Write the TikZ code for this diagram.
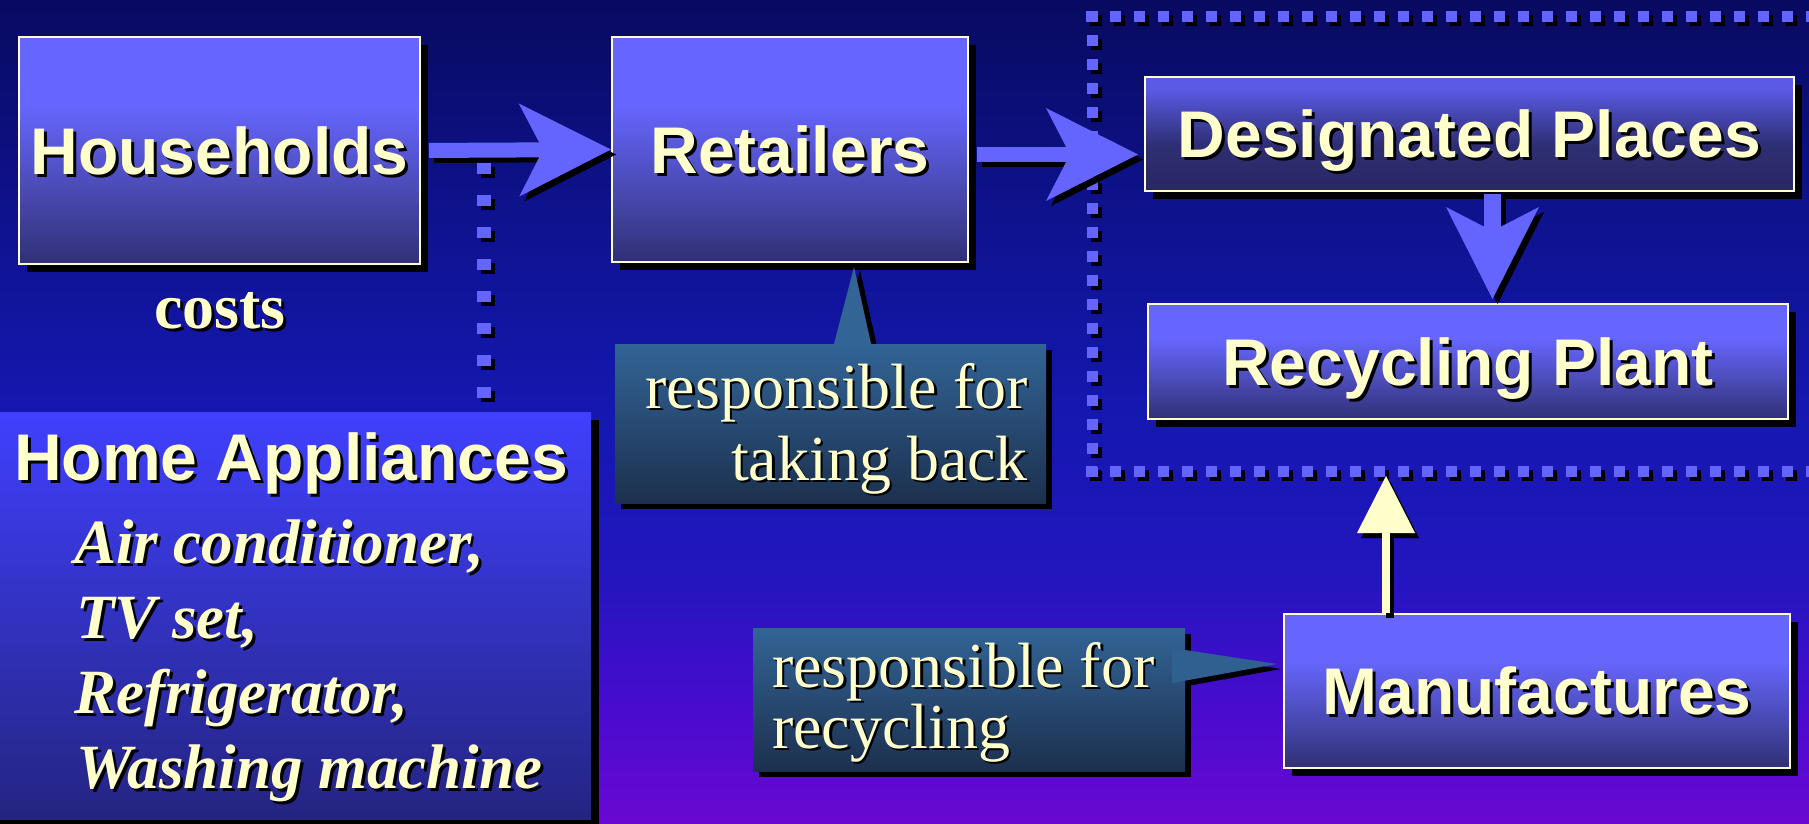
\documentclass[tikz,border=0pt]{standalone}
\usepackage{fontspec}
\setmainfont{Liberation Serif}
\newfontfamily\lsans{Liberation Sans}
\usetikzlibrary{arrows.meta,shadows,calc}
\definecolor{cream}{RGB}{255,255,204}
\definecolor{arrowblue}{RGB}{100,100,255}
\definecolor{bgbot}{RGB}{106,8,210}
\definecolor{bgA}{RGB}{70,12,205}
\definecolor{bgB}{RGB}{35,22,190}
\definecolor{bgmid}{RGB}{20,24,176}
\definecolor{bgC}{RGB}{14,18,140}
\definecolor{bgtop}{RGB}{8,10,96}
\definecolor{bxbot}{RGB}{48,48,118}
\definecolor{bxlow}{RGB}{72,72,175}
\definecolor{bxtop}{RGB}{102,102,255}
\definecolor{dpbot}{RGB}{40,40,100}
\definecolor{dpmid}{RGB}{46,46,115}
\definecolor{dptop}{RGB}{90,90,230}
\definecolor{cotop}{RGB}{50,100,150}
\definecolor{cobot}{RGB}{28,48,78}
\definecolor{hatop}{RGB}{64,64,255}
\definecolor{habot}{RGB}{36,36,130}
\pgfdeclareverticalshading{bgshade}{100bp}{color(0bp)=(bgbot); color(25bp)=(bgbot); color(32.5bp)=(bgA); color(40bp)=(bgB); color(50bp)=(bgmid); color(62.5bp)=(bgC); color(75bp)=(bgtop); color(100bp)=(bgtop)}
\pgfdeclareverticalshading{boxshade}{100bp}{color(0bp)=(bxbot); color(25bp)=(bxbot); color(40bp)=(bxlow); color(60bp)=(bxtop); color(100bp)=(bxtop)}
\pgfdeclareverticalshading{dpshade}{100bp}{color(0bp)=(dpbot); color(25bp)=(dpbot); color(45bp)=(dpmid); color(70bp)=(dptop); color(100bp)=(dptop)}
\pgfdeclarelayer{bglayer}
\pgfdeclarelayer{shlayer}
\pgfsetlayers{bglayer,shlayer,main}
\newcommand\shd[2][3pt]{\leavevmode\rlap{\kern#1\lower#1\hbox{\color{black}#2}}#2}
\newcommand\fbig{\lsans\bfseries\fontsize{66}{72}\selectfont}
\newcommand\fcosts{\bfseries\fontsize{64}{70}\selectfont}
\newcommand\fitem{\bfseries\itshape\fontsize{63}{75}\selectfont}
\newcommand\fcall{\fontsize{64}{72}\selectfont}
\tikzset{
  lbox/.style={draw=cream, line width=2pt, shade, shading=boxshade, inner sep=0pt,
    text=cream, font=\fbig, text height=47pt, text depth=0pt,
    drop shadow={shadow xshift=8pt, shadow yshift=-8pt, opacity=1, fill=black}},
  cbox/.style={shade, top color=cotop, bottom color=cobot, draw=none, inner sep=0pt,
    drop shadow={shadow xshift=6pt, shadow yshift=-6pt, opacity=1, fill=black}},
  habox/.style={shade, top color=hatop, bottom color=habot, draw=none, inner sep=0pt,
    drop shadow={shadow xshift=8pt, shadow yshift=-8pt, opacity=1, fill=black}},
  txt/.style={inner sep=0pt, text=cream},
  fatarrow/.style={draw=arrowblue, line width=15pt,
    -{Stealth[length=92pt,width=93pt,inset=24pt,line width=0pt]}},
  fatshadow/.style={fatarrow, draw=black, transform canvas={shift={(5pt,-5pt)}}},
  creamarrow/.style={draw=cream, line width=8pt,
    -{Triangle[length=57pt,width=58pt,line width=0pt]}},
  creamshadow/.style={creamarrow, draw=black, transform canvas={shift={(4pt,-5pt)}}},
  dotline/.style={draw=arrowblue, line width=11pt, dash pattern=on 11pt off 13pt},
  dotshadow/.style={dotline, draw=black, transform canvas={shift={(4pt,-4pt)}}},
  vdotline/.style={draw=arrowblue, line width=14pt, dash pattern=on 11pt off 21pt},
  vdotshadow/.style={vdotline, draw=black, transform canvas={shift={(4pt,-4pt)}}},
}
\begin{document}
\begin{tikzpicture}[x=1pt,y=-1pt]
\useasboundingbox (0,0) rectangle (1809,824);
\begin{pgfonlayer}{bglayer}
  \path[shade, shading=bgshade] (0,0) rectangle (1809,824);
\end{pgfonlayer}

% dotted zone
\coordinate (zTR) at (1830,17);
\coordinate (zTL) at (1086,17);
\coordinate (zLT) at (1092,11);
\coordinate (zLB) at (1092,477);
\coordinate (zBL) at (1086,471);
\coordinate (zBR) at (1830,471);
\draw[dotshadow] (zTL) -- (zTR);
\draw[dotshadow] (zLT) -- (zLB);
\draw[dotshadow] (zBL) -- (zBR);
\draw[dotline] (zTL) -- (zTR);
\draw[dotline] (zLT) -- (zLB);
\draw[dotline] (zBL) -- (zBR);

% boxes
\node[lbox, minimum width=401pt, minimum height=227pt] (hh) at (219.5,150.5) {\shd{Households}};
\node[lbox, minimum width=356pt, minimum height=225pt] (ret) at (790,149.5) {\shd{Retailers}};
\node[lbox, shading=dpshade, minimum width=649pt, minimum height=114pt] (dp) at (1469.5,134) {\shd{Designated Places}};
\node[lbox, minimum width=640pt, minimum height=115pt] (rp) at (1468,361.5) {\shd{Recycling Plant}};
\node[lbox, minimum width=506pt, minimum height=154pt] (mf) at (1537,691) {\shd{Manufactures}};

\node[habox, minimum width=601pt, minimum height=407pt] (ha) at (290.5,615.5) {};
\node[txt, font=\fbig, anchor=base west] (hat) at (14,480) {\shd{Home Appliances}};
\node[txt, font=\fitem, anchor=base west] (ha1) at (74,563) {\shd{Air conditioner,}};
\node[txt, font=\fitem, anchor=base west] (ha2) at (76,638) {\shd{TV set,}};
\node[txt, font=\fitem, anchor=base west] (ha3) at (74,713) {\shd{Refrigerator,}};
\node[txt, font=\fitem, anchor=base west] (ha4) at (76,788) {\shd{Washing machine}};

\node[txt, font=\fcosts, anchor=base] (costs) at (220,328) {\shd{costs}};

% callouts
\node[cbox, minimum width=431pt, minimum height=159pt] (cb1) at (830.5,423.5) {};
\node[txt, font=\fcall, anchor=base east] (cb1a) at (1028,408) {\shd[2.5pt]{responsible for}};
\node[txt, font=\fcall, anchor=base east] (cb1b) at (1028,480) {\shd[2.5pt]{taking back}};
\node[cbox, minimum width=432pt, minimum height=143pt] (cb2) at (969,699.5) {};
\node[txt, font=\fcall, anchor=base west] (cb2a) at (772,687) {\shd[2.5pt]{responsible for}};
\node[txt, font=\fcall, anchor=base west] (cb2b) at (772,748) {\shd[2.5pt]{recycling}};

\begin{pgfonlayer}{shlayer}
  \fill[black, transform canvas={shift={(6pt,-3pt)}}] ($(cb1.north)+(3,2)$) -- ($(ret.south)+(64,4)$) -- ($(cb1.north)+(41,2)$) -- cycle;
  \fill[black, transform canvas={shift={(4pt,-5pt)}}] ($(cb2.east)+(-13,-51.5)$) -- ($(mf.west)+(-6,-27)$) -- ($(cb2.east)+(-13,-16.5)$) -- cycle;
\end{pgfonlayer}
\fill[cotop] ($(cb1.north)+(3,2)$) -- ($(ret.south)+(64,4)$) -- ($(cb1.north)+(41,2)$) -- cycle;
\fill[cotop!92!cobot] ($(cb2.east)+(-13,-51.5)$) -- ($(mf.west)+(-6,-27)$) -- ($(cb2.east)+(-13,-16.5)$) -- cycle;

% vertical dotted line
\coordinate (dtop) at (484,163);
\draw[vdotshadow] (dtop) -- ($(dtop |- ha.north)+(0,-11)$);
\draw[vdotline] (dtop) -- ($(dtop |- ha.north)+(0,-11)$);

% arrows
\draw[fatshadow, shorten <=8pt] (hh.east) -- (ret.west);
\draw[fatarrow, shorten <=8pt] (hh.east) -- (ret.west);
\draw[fatshadow, shorten <=8pt, shorten >=6pt] ($(ret.east)+(0,5)$) -- ($(ret.east -| dp.west)+(0,5)$);
\draw[fatarrow, shorten <=8pt, shorten >=6pt] ($(ret.east)+(0,5)$) -- ($(ret.east -| dp.west)+(0,5)$);
\draw[fatshadow, line width=17pt, shorten <=2pt, shorten >=4pt] ($(dp.south)+(23,0)$) -- ($(rp.north)+(24.5,0)$);
\draw[fatarrow, line width=17pt, shorten <=2pt, shorten >=4pt] ($(dp.south)+(23,0)$) -- ($(rp.north)+(24.5,0)$);

\coordinate (zin) at (1386,476);
\draw[creamshadow] (mf.north -| zin) -- (zin);
\draw[creamarrow] (mf.north -| zin) -- (zin);
\end{tikzpicture}
\end{document}
